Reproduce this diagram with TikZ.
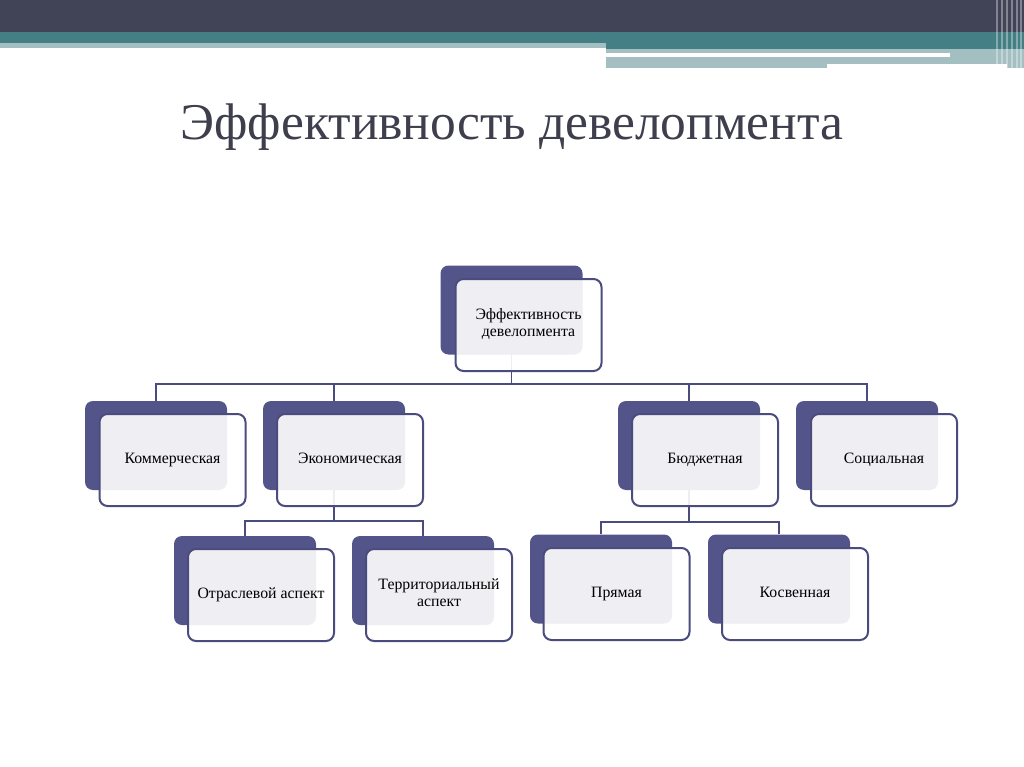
\documentclass[tikz,border=0pt]{standalone}
\usepackage{fontspec}
\setmainfont{Liberation Serif}
\definecolor{bardark}{HTML}{414356}
\definecolor{barteal}{HTML}{437F85}
\definecolor{barlight}{HTML}{A3BFC2}
\definecolor{boxdark}{HTML}{53548A}
\definecolor{boxline}{HTML}{4B4C7E}
\definecolor{titlegray}{HTML}{3E3E4C}
\tikzset{
  back/.style={rectangle, rounded corners=8pt, fill=boxdark, inner sep=0pt, minimum width=142pt, minimum height=89pt},
  front/.style={rectangle, rounded corners=8pt, draw=boxline, line width=2pt, fill=white, fill opacity=0.9, text opacity=1, inner sep=0pt, minimum width=146pt, minimum height=92pt, align=center, font=\fontsize{15.8}{17}\selectfont, execute at begin node=\strut},
  conn/.style={draw=boxline, line width=1.5pt}
}
\begin{document}
\begin{tikzpicture}[x=1pt, y=-1pt]
  \useasboundingbox (0, 0) rectangle (1024, 767);
  % Header
  \fill[bardark] (0, 0) rectangle (1024, 32);
  \fill[barteal] (0, 32) rectangle (1024, 43);
  \fill[barlight] (0, 43) rectangle (606, 48);
  \fill[barteal] (606, 43) rectangle (1024, 49);
  \fill[barlight] (606, 49) rectangle (1024, 68);
  \fill[white] (606, 53) rectangle (950, 57);
  \fill[white] (827, 64) rectangle (1007, 68);
  \foreach \x in {997, 1002, 1007, 1012, 1017, 1021}
    \draw[white, opacity=0.35, line width=1.2pt] (\x, 0) -- (\x, 68);
  \node (title) [text=titlegray, font=\fontsize{51.5}{55}\selectfont] at (512, 127) {Эффективность девелопмента};
  % Bus points
  \coordinate (bus-1) at (511.5, 384);
  \coordinate (bus-2) at (334, 521);
  \coordinate (bus-3) at (689, 522);
  % Back boxes
  \node (top-back) [back] at (511.5, 310) {};
  \node (kom-back) [back] at (156, 445.5) {};
  \node (eko-back) [back] at (334, 445.5) {};
  \node (bud-back) [back] at (689, 445.5) {};
  \node (soc-back) [back] at (867, 445.5) {};
  \node (otr-back) [back] at (245, 580.5) {};
  \node (ter-back) [back] at (423, 580.5) {};
  \node (pry-back) [back] at (601, 579) {};
  \node (kos-back) [back] at (779, 579) {};
  % Connectors
  \draw[conn] (top-back.south) -- (bus-1);
  \draw[conn] (kom-back.north) |- (bus-1);
  \draw[conn] (eko-back.north) |- (bus-1);
  \draw[conn] (bud-back.north) |- (bus-1);
  \draw[conn] (soc-back.north) |- (bus-1);
  \draw[conn] (eko-back.south) -- (bus-2);
  \draw[conn] (otr-back.north) |- (bus-2);
  \draw[conn] (ter-back.north) |- (bus-2);
  \draw[conn] (bud-back.south) -- (bus-3);
  \draw[conn] (pry-back.north) |- (bus-3);
  \draw[conn] (kos-back.north) |- (bus-3);
  % Front boxes
  \node (top) [front] at (528.5, 325) {Эффективность\\\strut девелопмента};
  \node (kom) [front] at (172.5, 460) {Коммерческая};
  \node (eko) [front] at (350, 460) {Экономическая};
  \node (bud) [front] at (705, 460) {Бюджетная};
  \node (soc) [front] at (884, 460) {Социальная};
  \node (otr) [front] at (261, 595) {Отраслевой аспект};
  \node (ter) [front] at (439, 595) {Территориальный\\\strut аспект};
  \node (pry) [front] at (616.5, 594) {Прямая};
  \node (kos) [front] at (795, 594) {Косвенная};
\end{tikzpicture}
\end{document}
